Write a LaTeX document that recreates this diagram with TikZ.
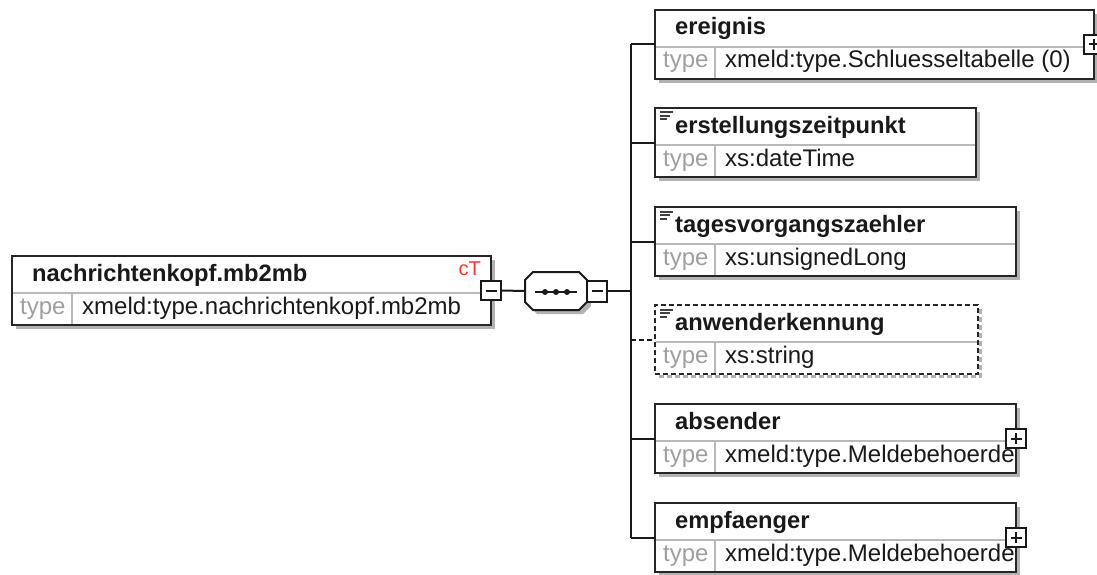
\documentclass[tikz,border=0pt]{standalone}
\usepackage{fontspec}
\setmainfont{Liberation Sans}
\usetikzlibrary{calc}

\tikzset{
  elembox/.style={draw=black!85, line width=2.2pt, fill=white, rectangle, inner sep=0pt, outer sep=0pt, anchor=north west, minimum height=69pt},
  dashbox/.style={dash pattern=on 5pt off 3pt},
  sepline/.style={draw=gray!55, line width=1.6pt},
  shadowline/.style={draw=gray!60, line width=3.2pt},
  hdr/.style={font=\fontsize{23.7}{26}\selectfont\bfseries, text=black!90, inner sep=0pt, anchor=base west},
  typelbl/.style={font=\fontsize{24}{26}\selectfont, text=gray!75, inner sep=0pt, anchor=base west},
  typeval/.style={font=\fontsize{24}{26}\selectfont, text=black!90, inner sep=0pt, anchor=base west},
  conn/.style={draw=black!90, line width=2pt},
  iconline/.style={draw=black!75, line width=2pt},
  expbox/.style={draw=black!90, fill=white, line width=2pt, rectangle, inner sep=0pt, outer sep=0pt, minimum width=20pt, minimum height=19pt},
  plusbox/.style={expbox, path picture={\draw[line width=2pt] ([xshift=-5.5pt]path picture bounding box.center) -- ([xshift=5.5pt]path picture bounding box.center) ([yshift=-5.5pt]path picture bounding box.center) -- ([yshift=5.5pt]path picture bounding box.center);}},
  minusbox/.style={expbox, path picture={\draw[line width=2pt] ([xshift=-5.5pt]path picture bounding box.center) -- ([xshift=5.5pt]path picture bounding box.center);}},
}

% name, left x, separator y, right x, header, type value, extra box style
\newcommand\xsdelem[7]{%
  \draw[shadowline,#7] ({#4+2.7},{#3-33}) -- ({#4+2.7},{#3+34.7}) -- ({#2+4},{#3+34.7});
  \node[elembox,#7,minimum width={(#4-#2)*1pt}] (#1) at (#2,{#3-37}) {};
  \draw[sepline] ({#2+1.1},#3) -- ({#4-1.1},#3) ({#2+60},#3) -- ({#2+60},{#3+30.9});
  \node[typelbl] (#1-tl) at ({#2+8},{#3+21}) {type};
  \begin{scope}
    \clip ({#2+61},#3) rectangle ({#4-1.1},{#3+31});
    \node[typeval] (#1-tv) at ({#2+70},{#3+21}) {#6};
  \end{scope}
  \node[hdr] (#1-h) at ({#2+20},{#3-12}) {#5};
}
\newcommand\listicon[1]{%
  \draw[iconline] ($(#1.north west)+(5,4.5)$) -- ++(13,0);
  \draw[iconline] ($(#1.north west)+(5,8)$) -- ++(10,0);
  \draw[iconline] ($(#1.north west)+(5,11.5)$) -- ++(7,0);
}

\begin{document}
\begin{tikzpicture}[x=1pt,y=-1pt]
\useasboundingbox (0,0) rectangle (1097,575);
\clip (0,0) rectangle (1097,575);

% root element
\xsdelem{main}{12}{293}{491}{nachrichtenkopf.mb2mb}{xmeld:type.nachrichtenkopf.mb2mb}{}
\node[font=\fontsize{20}{22}\selectfont, text={rgb,255:red,255;green,51;blue,51}, inner sep=0pt, anchor=base east] (ct) at (481,275) {cT};
\node[minusbox] (mainminus) at (main.east) {};

% sequence compositor
\node[rectangle, inner sep=0pt, outer sep=0pt, minimum width=62pt, minimum height=38pt] (seq) at (556,291) {};
\fill[gray!60] ($(seq.north west)+(12,4)$) -- ($(seq.north east)+(-4,4)$) -- ($(seq.north east)+(4,12)$) -- ($(seq.south east)+(4,-4)$) -- ($(seq.south east)+(-4,4)$) -- ($(seq.south west)+(12,4)$) -- ($(seq.south west)+(4,-4)$) -- ($(seq.north west)+(4,12)$) -- cycle;
\draw[conn, fill=white] ($(seq.north west)+(8,0)$) -- ($(seq.north east)+(-8,0)$) -- ($(seq.north east)+(0,8)$) -- ($(seq.south east)+(0,-8)$) -- ($(seq.south east)+(-8,0)$) -- ($(seq.south west)+(8,0)$) -- ($(seq.south west)+(0,-8)$) -- ($(seq.north west)+(0,8)$) -- cycle;
\draw[conn] ($(seq.center)+(-21,1)$) -- ($(seq.center)+(21,1)$);
\foreach \dx in {-11,0,11} \fill[black!90] ($(seq.center)+(\dx,1)$) circle (3pt);
\node[minusbox, anchor=west, minimum height=21pt] (seqminus) at (seq.east) {};

% child elements
\xsdelem{ereignis}{655}{47}{1094}{ereignis}{xmeld:type.Schluesseltabelle (0)}{}
\xsdelem{erst}{655}{145}{976}{erstellungszeitpunkt}{xs:dateTime}{}
\listicon{erst}
\xsdelem{tages}{655}{244}{1016}{tagesvorgangszaehler}{xs:unsignedLong}{}
\listicon{tages}
\xsdelem{anw}{655}{342}{978}{anwenderkennung}{xs:string}{dashbox}
\listicon{anw}
\xsdelem{abs}{655}{441}{1016}{absender}{xmeld:type.Meldebehoerde}{}
\xsdelem{empf}{655}{540}{1016}{empfaenger}{xmeld:type.Meldebehoerde}{}

\node[plusbox] (ereignisplus) at (ereignis.east) {};
\node[plusbox] (absplus) at (abs.east) {};
\node[plusbox] (empfplus) at (empf.east) {};

% connectors
\coordinate (spine) at (631,291);
\draw[conn] (mainminus.east) -- (seq.west);
\draw[conn] (seqminus.east) -- (spine);
\draw[conn] (spine |- ereignis.west) -- (spine |- empf.west);
\foreach \c in {ereignis,erst,tages,abs,empf}
  \draw[conn] (spine |- \c.west) -- (\c.west);
\draw[conn, dashbox] (spine |- anw.west) -- (anw.west);
\end{tikzpicture}
\end{document}
